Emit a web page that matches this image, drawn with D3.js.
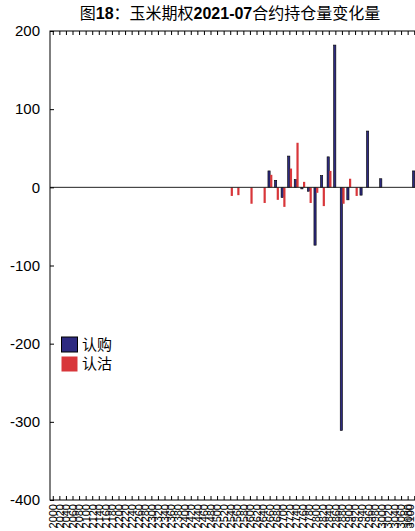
<!DOCTYPE html>
<html><head><meta charset="utf-8">
<script src="https://cdn.jsdelivr.net/npm/d3@7"></script>
<style>
html,body{margin:0;padding:0;background:#fff;}
svg{display:block;}
</style></head>
<body>
<svg id="c" width="415" height="531"></svg>
<script>
const strikes = ["2000","2020","2040","2060","2080","2100","2120","2140","2160","2180",
"2200","2220","2240","2260","2280","2300","2320","2340","2360","2380",
"2400","2420","2440","2460","2480","2500","2520","2540","2560","2580",
"2600","2620","2640","2660","2680","2700","2720","2740","2760","2780",
"2800","2820","2840","2860","2880","2900","2920","2940","2960","2980",
"3000","3020","3040","3060","3080","3100"];
const callValues = [0,0,0,0,0,0,0,0,0,0,
0,0,0,0,0,0,0,0,0,0,
0,0,0,0,0,0,0,0,0,0,
0,0,0,21,9,-13,40,10,-2,-5,
-74,15,39,182,-311,-16,0,-10,72,0,
11,0,0,0,0,21];
const putValues = [0,0,0,0,0,0,0,0,0,0,
0,0,0,0,0,0,0,0,0,0,
0,0,0,0,0,0,0,-11,-10,0,
-21,0,-20,16,-16,-25,24,57,7,-20,
-7,-24,21,0,-21,11,-11,0,0,0,
0,0,0,0,0,0];
const yTicks = [200,100,0,-100,-200,-300,-400];
const seriesNames = ["认购","认沽"];
const titleParts = [{t:"图",b:false},{t:"18",b:true},{t:"：玉米期权",b:false},{t:"2021-07",b:true},{t:"合约持仓量变化量",b:false}];

const svg = d3.select("#c");
const W = 415;
const L = 50, R = 418, T = 31, B = 500;
const fontLatin = "'Liberation Sans', Arial, Helvetica, sans-serif";
const fontCJK = "'Liberation Sans','Noto Sans CJK SC', sans-serif";
const callColor = "#2d2a80", putColor = "#d8363a";

const x = d3.scaleBand().domain(strikes).range([L, R]).padding(0);
const y = d3.scaleLinear().domain([-400, 200]).range([B, T]);
const bw = 2.2;

// bars
const g = svg.append("g");
const data = strikes.map((s, i) => ({s, c: callValues[i], p: putValues[i]}));
g.selectAll("rect.call").data(data).join("rect")
  .attr("class","call")
  .attr("x", d => x(d.s) + x.bandwidth()/2 - bw)
  .attr("width", bw)
  .attr("y", d => y(Math.max(0, d.c)))
  .attr("height", d => Math.abs(y(d.c) - y(0)))
  .attr("fill", callColor).attr("stroke", "#000").attr("stroke-width", 0.6);
g.selectAll("rect.put").data(data).join("rect")
  .attr("class","put")
  .attr("x", d => x(d.s) + x.bandwidth()/2)
  .attr("width", bw)
  .attr("y", d => y(Math.max(0, d.p)))
  .attr("height", d => Math.abs(y(d.p) - y(0)))
  .attr("fill", putColor);

// baseline
svg.append("line").attr("x1", L).attr("x2", R).attr("y1", y(0)).attr("y2", y(0))
  .attr("stroke", "#222").attr("stroke-width", 1);

// box
svg.append("rect").attr("x", L).attr("y", T).attr("width", R - L).attr("height", B - T)
  .attr("fill", "none").attr("stroke", "#000").attr("stroke-width", 1);

// x ticks (top and bottom, inward)
const xb = d3.axisBottom(x).tickSize(-4).tickSizeOuter(0);
const xAxisG = svg.append("g").attr("transform", `translate(0,${B})`).call(xb);
xAxisG.select(".domain").remove();
xAxisG.selectAll("line").attr("stroke", "#000");
xAxisG.selectAll(".tick text")
  .attr("font-family", fontLatin).attr("font-size", 11).attr("fill", "#000")
  .attr("text-anchor", "end")
  .attr("transform", "rotate(-90)")
  .attr("x", -4)
  .attr("y", d => {
    const cx = x(d) + x.bandwidth()/2;
    return Math.min(0, (W - 5) - cx);
  })
  .attr("dy", "0.35em");
const xt = d3.axisTop(x).tickSize(-4).tickSizeOuter(0).tickFormat("");
const xTopG = svg.append("g").attr("transform", `translate(0,${T})`).call(xt);
xTopG.select(".domain").remove();
xTopG.selectAll("line").attr("stroke", "#000");

// y axis
const ya = d3.axisLeft(y).tickValues(yTicks).tickSize(-4).tickSizeOuter(0).tickPadding(10)
  .tickFormat(d => String(d));
const yG = svg.append("g").attr("transform", `translate(${L},0)`).call(ya);
yG.select(".domain").remove();
yG.selectAll("line").attr("stroke", "#000");
yG.selectAll("text").attr("font-family", fontLatin).attr("font-size", 15).attr("fill", "#000");

// title
const title = svg.append("text").attr("x", 230).attr("y", 19).attr("text-anchor", "middle")
  .attr("font-family", fontCJK).attr("font-size", 16).attr("fill", "#000");
titleParts.forEach(p => title.append("tspan").text(p.t).attr("font-weight", p.b ? "bold" : "normal"));

// legend
const lg = svg.append("g");
const legendColors = [callColor, putColor];
seriesNames.forEach((n, i) => {
  const yy = 337 + i * 19.5;
  lg.append("rect").attr("x", 61.5).attr("y", yy).attr("width", 16).attr("height", 15)
    .attr("fill", legendColors[i]).attr("stroke", i === 0 ? "#000" : "none").attr("stroke-width", 1);
  lg.append("text").attr("x", 82).attr("y", yy + 7.5).attr("dy", "0.36em")
    .attr("font-family", fontCJK).attr("font-size", 15).attr("fill", "#000").text(n);
});
</script>
</body></html>
